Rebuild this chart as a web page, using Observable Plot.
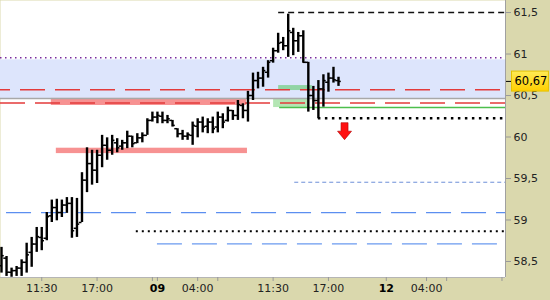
<!DOCTYPE html>
<html><head><meta charset="utf-8">
<script src="https://cdn.jsdelivr.net/npm/d3@7"></script>
<script src="https://cdn.jsdelivr.net/npm/@observablehq/plot@0.6"></script>
<style>body{margin:0;background:#fff}</style>
</head><body><div id="chart"></div>
<script>
// 30-minute OHLC bars (bar index = position on the session time axis)
const opens = [58.45,58.54,58.37,58.39,58.42,58.49,58.61,58.71,58.79,58.78,
  59.05,59.15,59.09,59.18,59.20,58.90,58.97,59.48,59.68,59.60,
  59.78,59.90,59.84,59.93,59.89,59.93,60.01,59.93,59.99,60.02,
  60.20,60.24,60.25,60.20,60.20,60.10,60.04,60.01,60.02,60.13,
  60.18,60.13,60.18,60.12,60.24,60.20,60.32,60.26,60.38,60.32,
  60.50,60.68,60.71,60.78,60.92,61.04,61.14,61.10,61.26,61.16,
  61.22,60.90,60.50,60.44,60.58,60.66,60.71,60.68];
const highs = [58.67,58.56,58.42,58.44,58.52,58.72,58.79,58.91,58.91,59.09,
  59.24,59.25,59.24,59.27,59.27,59.26,59.57,59.87,59.84,59.84,
  60.02,59.99,60.02,59.98,59.96,60.07,60.01,60.04,60.05,60.22,
  60.30,60.30,60.30,60.26,60.20,60.10,60.08,60.05,60.18,60.22,
  60.24,60.22,60.24,60.30,60.28,60.36,60.32,60.44,60.40,60.55,
  60.77,60.78,60.84,60.92,61.07,61.25,61.20,61.48,61.31,61.26,
  61.28,60.90,60.61,60.68,60.75,60.77,60.84,60.72];
const lows = [58.36,58.32,58.31,58.32,58.32,58.36,58.43,58.61,58.63,58.75,
  58.97,58.99,59.03,59.08,58.78,58.79,58.97,59.33,59.42,59.44,
  59.63,59.72,59.78,59.81,59.84,59.86,59.87,59.92,59.93,60.02,
  60.18,60.16,60.16,60.16,60.12,59.99,59.96,59.96,59.90,59.99,
  60.05,60.04,60.04,60.05,60.10,60.18,60.20,60.20,60.22,60.18,
  60.44,60.58,60.60,60.71,60.89,61.01,61.04,60.96,60.98,61.02,
  60.89,60.30,60.32,60.22,60.36,60.54,60.65,60.61];
const closes = [58.57,58.37,58.39,58.42,58.49,58.58,58.71,58.80,58.75,59.04,
  59.15,59.09,59.18,59.20,58.87,58.95,59.48,59.68,59.60,59.78,
  59.90,59.84,59.96,59.87,59.93,60.01,59.92,59.99,60.02,60.20,
  60.24,60.26,60.20,60.22,60.14,60.04,60.01,60.03,60.14,60.18,
  60.12,60.18,60.10,60.24,60.18,60.32,60.26,60.39,60.32,60.50,
  60.68,60.71,60.80,60.90,61.04,61.13,61.10,61.28,61.16,61.22,
  60.90,60.50,60.44,60.58,60.68,60.71,60.69,60.67];
const lastPrice = 60.67;

// time axis: bar index of 00:00 for each trading day
const dayNames = ["08", "09", "12"];
const dayOrigin = [-15, 31, 76.5];
const timeTicks = [["08","11:30"],["08","17:00"],["09","04:00"],["09","11:30"],["09","17:00"],["12","04:00"]];
const dayTicks = ["09", "12"];
const minorTicks = [["08","22:30"],["09","06:00"],["12","06:00"],["12","11:30"]];
const priceTicks = [58.5, 59, 59.5, 60, 60.5, 61, 61.5];

// levels and zones (prices; from/to in bar index)
const blueZone = [60.465, 60.93];
const purpleDotted = 60.954;
const greyLevel = 60.465;
const redDashedA = 60.57;
const redDashedB = 60.41;
const salmonZones = [{lo: 60.38, hi: 60.465, from: 9.9, to: 48.7}, {lo: 59.80, hi: 59.865, from: 10.9, to: 48.9}];
const greenZones = [{lo: 60.56, hi: 60.62, from: 55.1, to: 61.8}, {lo: 60.355, hi: 60.465, from: 54.1, to: 61.0}];
const greenLevel = {price: 60.355, from: 55.3};
const topDashed = {price: 61.5, from: 55.1};
const dottedHigh = {price: 60.225, from: 63.0};
const dottedLow = {price: 58.865, from: 26.8};
const blueShort = {price: 59.455, from: 58.3};
const blueLongA = {price: 59.088, from: 1.0};
const blueLongB = {price: 58.713, from: 31.0, to: 98.6};
const sellArrow = [{bar: 68.2, price: 60.07}];

const xDomain = [-0.2, 100.2];
const yDomain = [58.307, 61.645];
const idx = (day, hm) => {
  const [h, m] = hm.split(":").map(Number);
  return dayOrigin[dayNames.indexOf(day)] + 2 * (h + m / 60);
};
const bars = opens.map((o, i) => ({i, o, h: highs[i], l: lows[i], c: closes[i]}));
const timeVals = timeTicks.map(([d, t]) => idx(d, t));
const timeLabel = new Map(timeVals.map((v, k) => [v, timeTicks[k][1]]));
const dayVals = dayTicks.map(d => idx(d, "00:00"));
const dayLabel = new Map(dayVals.map((v, k) => [v, dayTicks[k]]));
const minorVals = minorTicks.map(([d, t]) => idx(d, t));
const xEnd = xDomain[1];
const lastLabel = lastPrice.toFixed(2).replace(".", ",");

const arrowSymbol = {draw(ctx) {
  ctx.moveTo(-3.5, -8.5); ctx.lineTo(3.5, -8.5); ctx.lineTo(3.5, 0); ctx.lineTo(7, 0);
  ctx.lineTo(0, 8.5); ctx.lineTo(-7, 0); ctx.lineTo(-3.5, 0); ctx.closePath();
}};

const hLine = (price, from, to, opts) => Plot.ruleY([price], {x1: from, x2: to, ...opts});

const plot = Plot.plot({
  width: 550, height: 300,
  marginLeft: 0, marginRight: 45, marginTop: 0, marginBottom: 23,
  style: {background: "#dad8ad", fontFamily: "DejaVu Sans", fontSize: "11px", color: "#222"},
  x: {domain: xDomain, range: [0, 505]},
  y: {domain: yDomain},
  marks: [
    Plot.frame({fill: "white", stroke: "none"}),
    Plot.rect([blueZone], {x1: xDomain[0], x2: xEnd, y1: d => d[0], y2: d => d[1], fill: "#dde5fc"}),
    Plot.rect(salmonZones, {x1: "from", x2: "to", y1: "lo", y2: "hi", fill: "#f79292"}),
    Plot.rect(greenZones.slice(0, 1), {x1: "from", x2: "to", y1: "lo", y2: "hi", fill: "#91d4a4"}),
    Plot.rect(greenZones.slice(1), {x1: "from", x2: "to", y1: "lo", y2: "hi", fill: "#b4e6b4"}),
    hLine(purpleDotted, xDomain[0], xEnd, {stroke: "#7a2aa0", strokeWidth: 1.5, strokeDasharray: "1.5,3.5"}),
    hLine(greyLevel, xDomain[0], xEnd, {stroke: "#a8a8a8", strokeWidth: 1.5}),
    hLine(redDashedA, xDomain[0], xEnd, {stroke: "#e33b3b", strokeWidth: 1.5, strokeDasharray: "25,10", strokeDashoffset: 15}),
    hLine(redDashedB, xDomain[0], xEnd, {stroke: "#e33b3b", strokeWidth: 1.5, strokeDasharray: "25,10"}),
    hLine(greenLevel.price, greenLevel.from, xEnd, {stroke: "#4cbf4c", strokeWidth: 1.5}),
    hLine(topDashed.price, topDashed.from, xEnd, {stroke: "#111", strokeWidth: 1.5, strokeDasharray: "6,4"}),
    hLine(dottedHigh.price, dottedHigh.from, xEnd, {stroke: "#000", strokeWidth: 2.5, strokeDasharray: "2.5,4.5"}),
    hLine(dottedLow.price, dottedLow.from, xEnd, {stroke: "#000", strokeWidth: 2, strokeDasharray: "2,4"}),
    hLine(blueShort.price, blueShort.from, xEnd, {stroke: "#6d8fd8", strokeWidth: 1, strokeDasharray: "4,3"}),
    hLine(blueLongA.price, blueLongA.from, xEnd, {stroke: "#5b8ef0", strokeWidth: 1.2, strokeDasharray: "25,10"}),
    hLine(blueLongB.price, blueLongB.from, blueLongB.to, {stroke: "#6b9af0", strokeWidth: 1.2, strokeDasharray: "25,10"}),
    Plot.dot(sellArrow, {x: "bar", y: "price", symbol: arrowSymbol, fill: "#ff1010", stroke: "#b00000", strokeWidth: 0.6, r: 5}),
    Plot.ruleX(bars, {x: "i", y1: "l", y2: "h", stroke: "#000", strokeWidth: 2.4}),
    Plot.ruleY(bars, {x1: d => d.i - 0.55, x2: d => d.i, y: "o", stroke: "#000", strokeWidth: 1.5}),
    Plot.ruleY(bars, {x1: d => d.i, x2: d => d.i + 0.55, y: "c", stroke: "#000", strokeWidth: 1.5}),
    Plot.ruleX([xEnd], {stroke: "#a0a0a0"}),
    Plot.ruleY([yDomain[0]], {stroke: "#b5b5b5"}),
    Plot.axisY({anchor: "right", ticks: priceTicks, tickFormat: d => String(d).replace(".", ","), tickSize: 5, tickPadding: 3, stroke: "#999", fill: "#222"}),
    Plot.axisX({anchor: "bottom", ticks: timeVals, tickFormat: v => timeLabel.get(v), tickSize: 4, tickPadding: 3, stroke: "#999", fill: "#222"}),
    Plot.axisX({anchor: "bottom", ticks: dayVals, tickFormat: v => dayLabel.get(v), tickSize: 4, tickPadding: 3, stroke: "#999", fill: "#000", fontWeight: "bold"}),
    Plot.axisX({anchor: "bottom", ticks: minorVals, tickFormat: () => "", tickSize: 4, stroke: "#999"}),
    Plot.axisY({anchor: "right", ticks: [lastPrice], tickFormat: () => "", tickSize: 6, stroke: "#000"}),
    Plot.text([lastPrice], {x: xEnd, y: d => d, text: () => lastLabel, dx: 9, textAnchor: "start", fill: "#000", fontSize: 11.5})
  ]
});
document.getElementById("chart").appendChild(plot);

// yellow box behind last price label
const svg = d3.select(plot);
const defs = svg.insert("defs", ":first-child");
const grad = defs.append("linearGradient").attr("id", "gold").attr("x1", 0).attr("y1", 0).attr("x2", 0).attr("y2", 1);
grad.append("stop").attr("offset", "0%").attr("stop-color", "#ffea55");
grad.append("stop").attr("offset", "100%").attr("stop-color", "#ffcf00");
const tnode = svg.selectAll("text").nodes().find(n => n.textContent === lastLabel);
if (tnode) {
  const bb = tnode.getBBox();
  const rect = document.createElementNS("http://www.w3.org/2000/svg", "rect");
  rect.setAttribute("x", bb.x - 3);
  rect.setAttribute("y", bb.y + bb.height / 2 - 10);
  rect.setAttribute("width", bb.width + 4);
  rect.setAttribute("height", 20);
  rect.setAttribute("fill", "url(#gold)");
  rect.setAttribute("stroke", "#e6c200");
  const tr = tnode.getAttribute("transform");
  if (tr) rect.setAttribute("transform", tr);
  tnode.parentNode.insertBefore(rect, tnode);
}
</script>
</body></html>
